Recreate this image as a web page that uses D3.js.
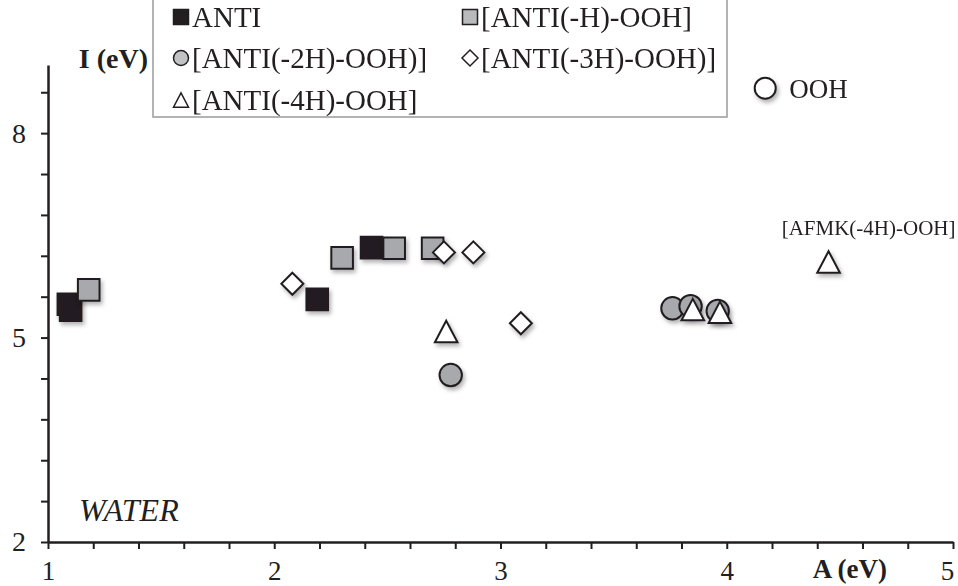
<!DOCTYPE html>
<html><head><meta charset="utf-8">
<script src="https://cdn.jsdelivr.net/npm/d3@7"></script>
<style>
html,body{margin:0;padding:0;background:#fff;}
svg{display:block;font-family:"Liberation Serif","Times New Roman",serif;}
</style></head>
<body>
<svg id="chart" width="958" height="586"></svg>
<script>
// ---- data ----
const seriesNames = ["ANTI", "[ANTI(-H)-OOH]", "[ANTI(-2H)-OOH)]", "[ANTI(-3H)-OOH)]", "[ANTI(-4H)-OOH]"];
const antiA   = [1.09, 1.10, 2.19, 2.43];
const antiI   = [5.49, 5.40, 5.56, 6.32];
const antiH_A = [1.18, 2.30, 2.53, 2.70];
const antiH_I = [5.70, 6.17, 6.31, 6.31];
const anti2H_A = [2.78, 3.76, 3.84, 3.96];
const anti2H_I = [4.45, 5.43, 5.46, 5.39];
const anti3H_A = [2.08, 2.75, 2.88, 3.09];
const anti3H_I = [5.79, 6.25, 6.25, 5.21];
const anti4H_A = [2.76, 3.85, 3.97, 4.45];
const anti4H_I = [5.09, 5.41, 5.37, 6.11];
const oohA = [4.17];
const oohI = [8.66];
const xTickValues = [1, 2, 3, 4, 5];
const yTickValues = [2, 5, 8];

const svg = d3.select("#chart");
const x = d3.scaleLinear().domain([1, 5]).range([48, 953]);
const y = d3.scaleLinear().domain([2, 9]).range([542, 65]);
const ink = "#231f20";

// shadow filter
const defs = svg.append("defs");
const f = defs.append("filter").attr("id", "sh").attr("x", "-50%").attr("y", "-50%").attr("width", "200%").attr("height", "200%");
f.append("feDropShadow").attr("dx", 2).attr("dy", 3).attr("stdDeviation", 2)
  .attr("flood-color", "#000").attr("flood-opacity", 0.3);

// shapes
function shapePath(type, s) {
  if (type === "square") return `M${-s},${-s}h${2*s}v${2*s}h${-2*s}Z`;
  if (type === "diamond") return `M0,${-s}L${s},0L0,${s}L${-s},0Z`;
  if (type === "triangle") { const h = s*1.9; return `M0,${-h/2}L${s},${h/2}L${-s},${h/2}Z`; }
  if (type === "circle") return `M${s},0A${s},${s} 0 1,1 ${-s},0A${s},${s} 0 1,1 ${s},0Z`;
}

// axes
const minorX = d3.range(0, 21).map(i => 1 + i * 0.2);
const xAxis = d3.axisBottom(x).tickValues(minorX).tickSize(7).tickSizeOuter(0)
  .tickFormat(d => (Math.abs(d - Math.round(d)) < 1e-6 && xTickValues.includes(Math.round(d))) ? String(Math.round(d)) : "");
const gx = svg.append("g").attr("transform", `translate(0,${y(2)})`).call(xAxis);
gx.select(".domain").attr("stroke", ink).attr("stroke-width", 2.5);
gx.selectAll(".tick line").attr("stroke", ink).attr("stroke-width", 2);
gx.selectAll(".tick text").attr("fill", ink).style("font-size", "27px")
  .style("font-family", "Liberation Serif").attr("dy", null).attr("y", 38)
  .attr("x", d => (Math.abs(d - 5) < 1e-6 ? -6 : 0));

const minorY = d3.range(0, 12).map(i => 2 + i * 0.6);
const yAxis = d3.axisLeft(y).tickValues(minorY).tickSize(7).tickSizeOuter(0)
  .tickFormat(d => (Math.abs(d - Math.round(d)) < 1e-6 && yTickValues.includes(Math.round(d))) ? String(Math.round(d)) : "");
const gy = svg.append("g").attr("transform", `translate(${x(1)},0)`).call(yAxis);
gy.select(".domain").attr("stroke", ink).attr("stroke-width", 2.5);
gy.selectAll(".tick line").attr("stroke", ink).attr("stroke-width", 2);
gy.selectAll(".tick text").attr("fill", ink).style("font-size", "28px")
  .style("font-family", "Liberation Serif").attr("x", -22);

// axis titles
svg.append("text").attr("x", 148).attr("y", 68).attr("text-anchor", "end")
  .style("font-size", "28px").style("font-weight", "bold").attr("fill", ink).text("I (eV)");
svg.append("text").attr("x", 887).attr("y", 578).attr("text-anchor", "end")
  .style("font-size", "27px").style("font-weight", "bold").attr("fill", ink).text("A (eV)");
svg.append("text").attr("x", 79).attr("y", 521)
  .style("font-size", "32px").style("font-style", "italic").attr("fill", ink).text("WATER");

// series
const series = [
  {name: seriesNames[0], xs: antiA, ys: antiI, type: "square", fill: ink},
  {name: seriesNames[1], xs: antiH_A, ys: antiH_I, type: "square", fill: "#a7a9ac"},
  {name: seriesNames[2], xs: anti2H_A, ys: anti2H_I, type: "circle", fill: "#a7a9ac"},
  {name: seriesNames[3], xs: anti3H_A, ys: anti3H_I, type: "diamond", fill: "#ffffff"},
  {name: seriesNames[4], xs: anti4H_A, ys: anti4H_I, type: "triangle", fill: "#ffffff"}
];
const markSize = {square: 10.8, circle: 11.2, diamond: 11, triangle: 11.3};

const plot = svg.append("g");
series.forEach(s => {
  plot.append("g").attr("filter", "url(#sh)").selectAll("path")
    .data(s.xs.map((v, i) => ({a: v, i: s.ys[i]})))
    .join("path")
    .attr("transform", d => `translate(${x(d.a)},${y(d.i)})`)
    .attr("d", shapePath(s.type, markSize[s.type]))
    .attr("fill", s.fill).attr("stroke", ink).attr("stroke-width", 2);
});

// OOH point
plot.append("g").attr("filter", "url(#sh)").selectAll("path")
  .data(oohA.map((v, i) => ({a: v, i: oohI[i]})))
  .join("path")
  .attr("transform", d => `translate(${x(d.a)},${y(d.i)})`)
  .attr("d", shapePath("circle", 10.5))
  .attr("fill", "#fff").attr("stroke", ink).attr("stroke-width", 2);
svg.append("text").attr("x", x(oohA[0]) + 24).attr("y", y(oohI[0]) + 10)
  .style("font-size", "27px").attr("fill", ink).text("OOH");

// AFMK label
svg.append("text").attr("x", x(anti4H_A[3]) + 40).attr("y", y(anti4H_I[3]) - 27)
  .attr("text-anchor", "middle").style("font-size", "21px").attr("fill", ink).text("[AFMK(-4H)-OOH]");

// legend
const lg = svg.append("g");
lg.append("rect").attr("x", 153).attr("y", -1).attr("width", 574).attr("height", 118)
  .attr("fill", "#fff").attr("stroke", "#9a9a9a").attr("stroke-width", 1.5);
const legPos = [[0, 0], [1, 0], [0, 1], [1, 1], [0, 2]];
const colX = [181, 470], rowY = [17, 58, 100];
series.forEach((s, k) => {
  const [c, r] = legPos[k];
  lg.append("path").attr("transform", `translate(${colX[c]},${rowY[r]})`)
    .attr("d", shapePath(s.type, s.type === "diamond" ? 8 : 7.5))
    .attr("fill", s.type === "circle" ? "#c0c2c4" : (s.type === "square" && k === 1 ? "#b8babc" : s.fill))
    .attr("stroke", ink).attr("stroke-width", 1.5);
  lg.append("text").attr("x", colX[c] + 11).attr("y", rowY[r] + 10)
    .style("font-size", "29px").attr("fill", ink).text(s.name);
});
</script>
</body></html>
